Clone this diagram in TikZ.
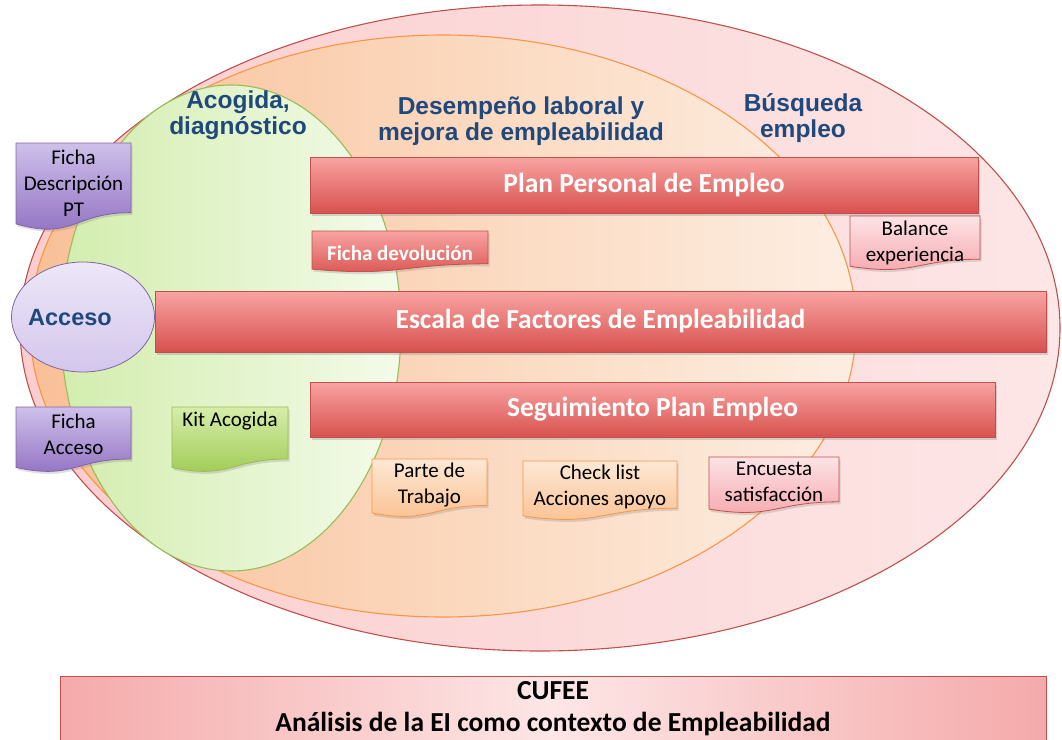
\documentclass[tikz,border=0pt]{standalone}
\usepackage{fontspec}
\setmainfont{Carlito}
\newfontfamily\headfont{Liberation Sans}
\usetikzlibrary{shapes.geometric,shadows}

\definecolor{headblue}{HTML}{1F497D}
\definecolor{outerleft}{HTML}{FBCDCD}
\definecolor{outerright}{HTML}{FDE6E6}
\definecolor{outerline}{HTML}{C0504D}
\definecolor{midleft}{HTML}{F9C097}
\definecolor{midright}{HTML}{FDEEE2}
\definecolor{midline}{HTML}{F79646}
\definecolor{innerleft}{HTML}{D3EDAE}
\definecolor{innerright}{HTML}{F3FBEA}
\definecolor{innerline}{HTML}{9BBB59}
\definecolor{rojotop}{HTML}{F8A4A2}
\definecolor{rojobot}{HTML}{D8514E}
\definecolor{rojoline}{HTML}{C0504D}
\definecolor{lilatop}{HTML}{CEC0EA}
\definecolor{lilabot}{HTML}{8E6DC0}
\definecolor{lilaline}{HTML}{8064A2}
\definecolor{verdetop}{HTML}{D7EDAA}
\definecolor{verdebot}{HTML}{9BC94E}
\definecolor{verdeline}{HTML}{9BBB59}
\definecolor{naranjatop}{HTML}{FDE8D5}
\definecolor{naranjabot}{HTML}{FABF8E}
\definecolor{naranjaline}{HTML}{F79646}
\definecolor{rosatop}{HTML}{FDE3E5}
\definecolor{rosabot}{HTML}{F5A5AC}
\definecolor{rosaline}{HTML}{C0504D}
\definecolor{accesotop}{HTML}{EDE7F8}
\definecolor{accesobot}{HTML}{D3C6EC}
\definecolor{cufeeedge}{HTML}{F5AAAA}
\definecolor{cufeemid}{HTML}{FDE6E6}

%% document shape: name, x1, y1, x2, y2, colour, text, text y
\newcommand{\docnode}[8]{%
  \path[docdecorate=#6] (#2,#3) -- (#4,#3) -- (#4,{#3+0.8*(#5-#3)})
    .. controls ({(#2+#4)/2},{#3+0.8*(#5-#3)}) and ({(#2+#4)/2},{#3+1.12*(#5-#3)})
    .. (#2,{#3+0.93*(#5-#3)}) -- cycle;
  \node[doctext] (#1) at ({(#2+#4)/2},#8) {#7};
}

\begin{document}
\begin{tikzpicture}
[x=1pt,y=-1pt,
  areadecorate/.style={line width=1.1pt},
  headdecorate/.style={text=headblue,align=center,
    font=\headfont\bfseries\fontsize{24.5}{26.5}\selectfont},
  bardecorate/.style={shape=rectangle,draw=rojoline,top color=rojotop,
    bottom color=rojobot,text=white,inner sep=0pt,
    font=\bfseries\fontsize{27.5}{30}\selectfont,
    drop shadow={opacity=0.3,shadow xshift=1.5pt,shadow yshift=-2.5pt}},
  docdecorate/.style={draw=#1line,top color=#1top,bottom color=#1bot,
    line width=0.8pt,
    drop shadow={opacity=0.25,shadow xshift=1.5pt,shadow yshift=-2.5pt}},
  doctext/.style={align=center,font=\fontsize{21}{26}\selectfont}]
\useasboundingbox (0,0) rectangle (1062,739);
\fill[white] (0,0) rectangle (1062,739);
%% areas
\draw[areadecorate,draw=outerline,left color=outerleft,right color=outerright]
  (540,328) ellipse [x radius=520, y radius=323];
\draw[areadecorate,draw=midline,left color=midleft,right color=midright]
  (443,326) ellipse [x radius=413, y radius=291];
\draw[areadecorate,draw=innerline,left color=innerleft,right color=innerright]
  (231,328) ellipse [x radius=170, y radius=243];
%% area titles
\node[headdecorate] (acogida) at (238,115) {Acogida,\\diagnóstico};
\node[headdecorate] (desempeno) at (521,121) {Desempeño laboral y\\mejora de empleabilidad};
\node[headdecorate] (busqueda) at (803,118) {Búsqueda\\empleo};
%% access
\node[shape=ellipse,draw=lilaline,line width=0.8pt,top color=accesotop,
  bottom color=accesobot,minimum width=143pt,minimum height=110pt] (acceso) at (83,317) {};
\node[text=headblue,font=\headfont\bfseries\fontsize{23.5}{26}\selectfont]
  (accesotext) at (70,318) {Acceso};
%% bars
\node[bardecorate,minimum width=668pt,minimum height=56pt] (plan) at (644,185)
  {Plan Personal de Empleo};
\node[bardecorate,minimum width=891pt,minimum height=61pt] (escala) at (600.5,321.5)
  {Escala de Factores de Empleabilidad};
\node[bardecorate,minimum width=685pt,minimum height=55pt] (seguimiento) at (652.5,409.5)
  {Seguimiento Plan Empleo};
%% documents
\foreach \docname/\xa/\ya/\xb/\yb/\doccol/\doctxt/\ty in {
  descpt/16/143/131/230/lila/{Ficha\\Descripción\\PT}/183,
  fichaacceso/16/407/131/472/lila/{Ficha\\Acceso}/434,
  kit/172/407/288/472/verde/{Kit Acogida}/421,
  parte/372/459/487/517/naranja/{Parte de\\Trabajo}/485,
  checklist/523/461/677/520/naranja/{Check list\\Acciones apoyo}/487,
  encuesta/709/457/839/513/rosa/{Encuesta\\satisfacción}/482,
  balance/850/216/980/270/rosa/{Balance\\experiencia}/243,
  devolucion/312/231/488/272/rojo/{\textcolor{white}{\bfseries Ficha devolución}}/253} {
  \docnode{\docname}{\xa}{\ya}{\xb}{\yb}{\doccol}{\doctxt}{\ty}
}
%% context box
\node[shape=rectangle,draw=outerline,line width=0.8pt,left color=cufeeedge,
  right color=cufeeedge,middle color=cufeemid,minimum width=986pt,minimum height=66pt,
  align=center,font=\bfseries\fontsize{27.5}{32}\selectfont] (cufee) at (553,709)
  {CUFEE\\Análisis de la EI como contexto de Empleabilidad};
\end{tikzpicture}
\end{document}
